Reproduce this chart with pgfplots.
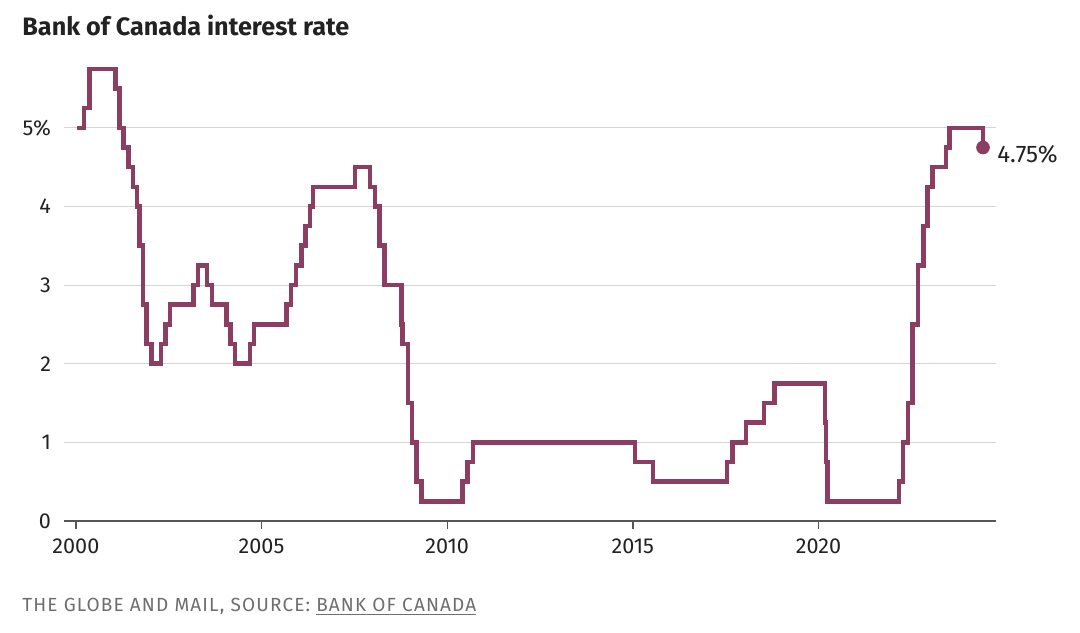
\documentclass[border=0pt]{standalone}
\usepackage{pgfplots}
\pgfplotsset{compat=1.18}
\usepackage{fontspec}
\setmainfont{Fira Sans}
\newfontfamily\footfont[LetterSpace=6]{Fira Sans}
\definecolor{boc}{RGB}{139,61,98}
\definecolor{gridc}{RGB}{212,212,212}
\definecolor{axc}{RGB}{85,85,85}
\definecolor{txt}{RGB}{34,34,34}
\definecolor{foot}{RGB}{110,110,110}
\begin{document}
\begin{tikzpicture}
\path[use as bounding box] (-32pt,-55.5pt) rectangle (508pt,260.5pt);
\begin{axis}[
  scale only axis, width=466pt, height=230pt,
  xmin=1999.68, xmax=2024.78, ymin=0, ymax=5.85,
  clip=false,
  axis x line*=bottom, axis y line*=left,
  x axis line style={draw=axc, line width=0.7pt, -},
  y axis line style={draw=none},
  xtick={2000,2005,2010,2015,2020},
  xticklabels={2000,2005,2010,2015,2020},
  ytick={0,1,2,3,4,5},
  yticklabels={0,1,2,3,4,5\%},
  tick align=outside,
  major tick length=4pt,
  xtick style={draw=axc, line width=0.7pt},
  ytick style={draw=none},
  ymajorgrids, grid style={draw=gridc, line width=0.6pt},
  tick label style={font=\fontsize{10.8}{12}\selectfont, text=txt},
  /pgf/number format/assume math mode=true,
  yticklabel style={anchor=east, xshift=1pt},
  xticklabel style={yshift=-1.5pt},
]
\addplot[const plot, boc, line width=2.3pt, line join=miter] coordinates {
(2000.04,5.00)
(2000.22,5.25)
(2000.37,5.75)
(2001.06,5.50)
(2001.17,5.00)
(2001.29,4.75)
(2001.41,4.50)
(2001.54,4.25)
(2001.65,4.00)
(2001.71,3.50)
(2001.81,2.75)
(2001.90,2.25)
(2002.04,2.00)
(2002.29,2.25)
(2002.42,2.50)
(2002.54,2.75)
(2003.17,3.00)
(2003.29,3.25)
(2003.53,3.00)
(2003.67,2.75)
(2004.05,2.50)
(2004.17,2.25)
(2004.28,2.00)
(2004.69,2.25)
(2004.80,2.50)
(2005.68,2.75)
(2005.79,3.00)
(2005.93,3.25)
(2006.07,3.50)
(2006.18,3.75)
(2006.31,4.00)
(2006.39,4.25)
(2007.52,4.50)
(2007.92,4.25)
(2008.06,4.00)
(2008.17,3.50)
(2008.31,3.00)
(2008.77,2.50)
(2008.80,2.25)
(2008.94,1.50)
(2009.05,1.00)
(2009.17,0.50)
(2009.30,0.25)
(2010.41,0.50)
(2010.55,0.75)
(2010.69,1.00)
(2015.06,0.75)
(2015.54,0.50)
(2017.53,0.75)
(2017.68,1.00)
(2018.05,1.25)
(2018.53,1.50)
(2018.81,1.75)
(2020.17,1.25)
(2020.20,0.75)
(2020.24,0.25)
(2022.17,0.50)
(2022.28,1.00)
(2022.41,1.50)
(2022.53,2.50)
(2022.68,3.25)
(2022.82,3.75)
(2022.93,4.25)
(2023.07,4.50)
(2023.43,4.75)
(2023.53,5.00)
(2024.43,4.75)
};
\addplot[only marks, mark=*, mark size=3.2pt, boc] coordinates {(2024.43,4.75)};
\node[anchor=west, inner sep=0pt, xshift=7pt, yshift=-3.5pt, text=txt,
  font=\fontsize{12}{14}\selectfont] at (axis cs:2024.43,4.75) {4.75\%};
\end{axis}
\node[anchor=base west, inner sep=0pt, text=txt, font=\bfseries\fontsize{12.6}{14}\selectfont]
  at (-21pt,242.5pt) {Bank of Canada interest rate};
\node[anchor=base west, inner sep=0pt, text=foot, font=\fontsize{9.5}{11}\selectfont]
  at (-21pt,-45.3pt) {\footfont THE GLOBE AND MAIL, SOURCE: \underline{BANK OF CANADA}};
\end{tikzpicture}
\end{document}
